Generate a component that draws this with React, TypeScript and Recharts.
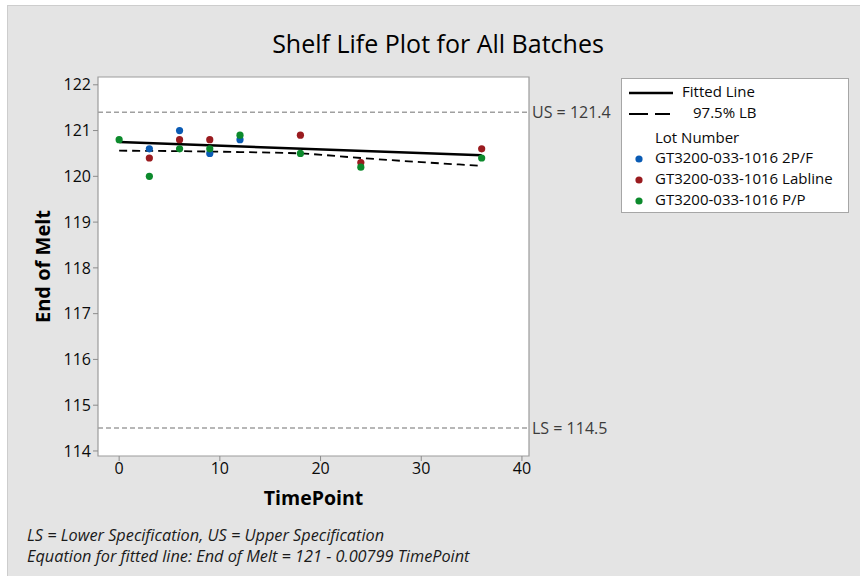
import React from 'react'
import {
  ComposedChart,
  Scatter,
  Line,
  XAxis,
  YAxis,
  ReferenceLine,
  ReferenceArea,
} from 'recharts'

const FONT = '"Open Sans", "Noto Sans", sans-serif'

// lots measured at each timepoint
const lot2PF = [
  { t: 3, v: 120.6 },
  { t: 6, v: 121.0 },
  { t: 9, v: 120.5 },
  { t: 12, v: 120.8 },
]
const lotLabline = [
  { t: 3, v: 120.4 },
  { t: 6, v: 120.8 },
  { t: 9, v: 120.8 },
  { t: 18, v: 120.9 },
  { t: 24, v: 120.3 },
  { t: 36, v: 120.6 },
]
const lotPP = [
  { t: 0, v: 120.8 },
  { t: 3, v: 120.0 },
  { t: 6, v: 120.6 },
  { t: 9, v: 120.6 },
  { t: 12, v: 120.9 },
  { t: 18, v: 120.5 },
  { t: 24, v: 120.2 },
  { t: 36, v: 120.4 },
]

const fitted = [
  { t: 0, v: 120.75 },
  { t: 36, v: 120.46 },
]
const lowerBound = [
  { t: 0, v: 120.56 },
  { t: 6, v: 120.55 },
  { t: 12, v: 120.53 },
  { t: 18, v: 120.5 },
  { t: 24, v: 120.4 },
  { t: 30, v: 120.31 },
  { t: 36, v: 120.23 },
]

const xTicks = [0, 10, 20, 30, 40]
const yTicks = [114, 115, 116, 117, 118, 119, 120, 121, 122]
const xDomain: [number, number] = [-2.1, 40.7]
const yDomain: [number, number] = [113.89, 122.17]
const upperSpec = 121.4
const lowerSpec = 114.5

const lots = [
  { name: 'GT3200-033-1016 2P/F', color: '#0a5bb4', data: lot2PF },
  { name: 'GT3200-033-1016 Labline', color: '#9a1b1f', data: lotLabline },
  { name: 'GT3200-033-1016 P/P', color: '#0c8a2c', data: lotPP },
]

const dot = (color: string) => (p: any) =>
  <circle cx={p.cx} cy={p.cy} r={3.6} fill={color} />

function LegendBox() {
  const txt: React.CSSProperties = { position: 'absolute', fontSize: 15, color: '#0a0a0a', whiteSpace: 'nowrap', lineHeight: '15px' }
  return (
    <div
      style={{
        position: 'absolute',
        left: 621,
        top: 78,
        width: 226,
        height: 133,
        background: '#fff',
        border: '1px solid #a6a6a6',
        fontFamily: FONT,
      }}
    >
      <svg width={226} height={133} style={{ position: 'absolute', left: 0, top: 0 }}>
        <line x1={7} x2={51} y1={14} y2={14} stroke="#000" strokeWidth={2.5} />
        <line x1={7} x2={48} y1={35} y2={35} stroke="#000" strokeWidth={2} strokeDasharray="19 7" />
        {lots.map((l, i) => (
          <circle key={l.name} cx={17} cy={80 + i * 21} r={3.6} fill={l.color} />
        ))}
      </svg>
      <div style={{ ...txt, left: 60, top: 5 }}>Fitted Line</div>
      <div style={{ ...txt, left: 71, top: 26 }}>97.5% LB</div>
      <div style={{ ...txt, left: 33, top: 51 }}>Lot Number</div>
      {lots.map((l, i) => (
        <div key={l.name} style={{ ...txt, left: 33, top: 71 + i * 21 }}>
          {l.name}
        </div>
      ))}
    </div>
  )
}

export default function App() {
  const tickStyle = { fontSize: 16, fill: '#0a0a0a', fontFamily: FONT }
  const refLabel = { position: 'right' as const, fill: '#3c3c3c', fontSize: 16, fontFamily: FONT, offset: 3 }
  return (
    <div style={{ position: 'absolute', left: 0, top: 0, width: 860, height: 576, background: '#fff', overflow: 'hidden' }}>
      <div
        style={{
          position: 'absolute',
          left: 7,
          top: 5,
          width: 860,
          height: 580,
          background: '#e4e4e4',
          border: '1px solid #cdcdcd',
        }}
      />
      <div
        style={{
          position: 'absolute',
          left: 0,
          width: 876,
          top: 26,
          textAlign: 'center',
          fontFamily: FONT,
          fontSize: 25,
          fontWeight: 500,
          color: '#000',
        }}
      >
        Shelf Life Plot for All Batches
      </div>
      <div style={{ position: 'absolute', left: 0, top: 0 }}>
        <ComposedChart width={860} height={576} margin={{ top: 77, right: 331, bottom: 80, left: 38 }}>
          <XAxis
            type="number"
            dataKey="t"
            domain={xDomain}
            ticks={xTicks}
            allowDataOverflow
            axisLine={false}
            tickLine={{ stroke: '#8c8c8c' }}
            tickSize={5}
            tick={tickStyle}
            height={40}
            label={{
              content: (p: any) => (
                <text
                  x={p.viewBox.x + p.viewBox.width / 2}
                  y={p.viewBox.y + 49}
                  textAnchor="middle"
                  fontFamily={FONT}
                  fontWeight="bold"
                  fontSize={19.5}
                  fill="#000"
                >
                  TimePoint
                </text>
              ),
            }}
          />
          <YAxis
            type="number"
            dataKey="v"
            domain={yDomain}
            ticks={yTicks}
            allowDataOverflow
            axisLine={false}
            tickLine={{ stroke: '#8c8c8c' }}
            tickSize={5}
            tick={tickStyle}
            width={60}
            label={{
              content: (p: any) => {
                const cx = 42
                const cy = p.viewBox.y + p.viewBox.height / 2
                return (
                  <text
                    x={cx}
                    y={cy}
                    transform={`rotate(-90 ${cx} ${cy})`}
                    textAnchor="middle"
                    dominantBaseline="central"
                    fontFamily={FONT}
                    fontWeight="bold"
                    fontSize={20}
                    fill="#000"
                  >
                    End of Melt
                  </text>
                )
              },
            }}
          />
          <ReferenceArea
            x1={xDomain[0]}
            x2={xDomain[1]}
            y1={yDomain[0]}
            y2={yDomain[1]}
            fill="#fff"
            fillOpacity={1}
            stroke="#9c9c9c"
            strokeWidth={1.2}
          />
          <ReferenceLine
            y={upperSpec}
            stroke="#a0a0a0"
            strokeWidth={1.5}
            strokeDasharray="5 3"
            label={{ value: 'US = 121.4', ...refLabel }}
          />
          <ReferenceLine
            y={lowerSpec}
            stroke="#a0a0a0"
            strokeWidth={1.5}
            strokeDasharray="5 3"
            label={{ value: 'LS = 114.5', ...refLabel }}
          />
          <Line
            data={lowerBound}
            dataKey="v"
            type="monotone"
            stroke="#000"
            strokeWidth={1.8}
            strokeDasharray="8 5"
            dot={false}
            activeDot={false}
            isAnimationActive={false}
          />
          <Line
            data={fitted}
            dataKey="v"
            type="linear"
            stroke="#000"
            strokeWidth={2.6}
            dot={false}
            activeDot={false}
            isAnimationActive={false}
          />
          {lots.map((l) => (
            <Scatter
              key={l.name}
              name={l.name}
              data={l.data}
              dataKey="v"
              fill={l.color}
              shape={dot(l.color)}
              isAnimationActive={false}
            />
          ))}
        </ComposedChart>
      </div>
      <LegendBox />
      <div
        style={{
          position: 'absolute',
          left: 27,
          top: 525,
          fontFamily: FONT,
          fontStyle: 'italic',
          fontSize: 16.3,
          lineHeight: '21px',
          color: '#1a1a1a',
        }}
      >
        <div>LS = Lower Specification, US = Upper Specification</div>
        <div>Equation for fitted line: End of Melt = 121 - 0.00799 TimePoint</div>
      </div>
    </div>
  )
}
